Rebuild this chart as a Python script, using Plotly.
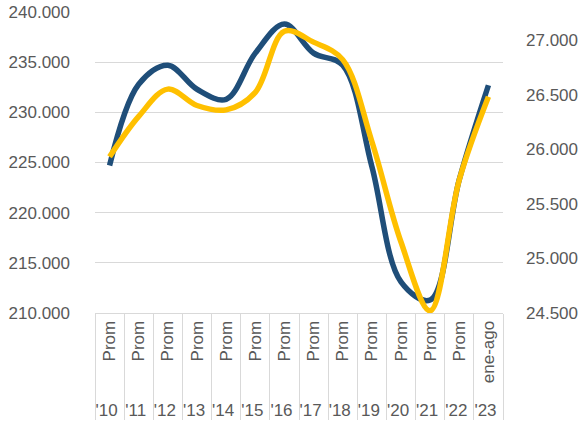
import plotly.graph_objects as go

years = ["'10", "'11", "'12", "'13", "'14", "'15", "'16", "'17", "'18", "'19", "'20", "'21", "'22", "'23"]
periods = ["Prom"] * 13 + ["ene-ago"]
serie_azul = [224700, 232800, 234700, 232300, 231300, 235900, 238800, 235900, 234700, 224600, 213100, 211300, 223300, 232700]
serie_amarilla = [25930, 26300, 26550, 26400, 26360, 26520, 27080, 26980, 26820, 26070, 25150, 24520, 25720, 26480]

x = [years, periods]

fig = go.Figure()
fig.add_trace(go.Scatter(
    x=x, y=serie_azul, mode="lines", name="Serie 1",
    line=dict(color="#1F4E79", width=5.5, shape="spline", smoothing=1.0),
    yaxis="y"))
fig.add_trace(go.Scatter(
    x=x, y=serie_amarilla, mode="lines", name="Serie 2",
    line=dict(color="#FFC000", width=5.5, shape="spline", smoothing=1.0),
    yaxis="y2"))

font = dict(family="Liberation Sans, Arial, sans-serif", size=16, color="#595959")

fig.update_layout(
    width=587, height=434,
    margin=dict(l=95, r=84, t=12, b=121),
    paper_bgcolor="white", plot_bgcolor="white",
    showlegend=False,
    font=font,
    xaxis=dict(type="multicategory", range=[-0.5, len(years) - 0.5],
               showline=True, linecolor="#D9D9D9",
               showgrid=False, tickangle=-90, tickfont=dict(size=17, color="#595959"),
               showdividers=True, dividercolor="#D9D9D9", dividerwidth=1,
               ticks="", automargin=False),
    yaxis=dict(range=[210000, 240000], tickvals=[210000, 215000, 220000, 225000, 230000, 235000, 240000],
               ticktext=["210.000", "215.000", "220.000", "225.000", "230.000", "235.000", "240.000"],
               showgrid=True, gridcolor="#D9D9D9", gridwidth=1, zeroline=False,
               ticklabelstandoff=24, tickfont=dict(size=17, color="#595959"), automargin=False),
    yaxis2=dict(range=[24500, 27256], overlaying="y", side="right",
                tickvals=[24500, 25000, 25500, 26000, 26500, 27000],
                ticktext=["24.500", "25.000", "25.500", "26.000", "26.500", "27.000"],
                showgrid=False, zeroline=False, ticklabelstandoff=22,
                tickfont=dict(size=17, color="#595959"), automargin=False),
)

fig.write_html("out.html", config={"displayModeBar": False},
               post_script="document.body.style.margin='0';document.body.style.overflow='hidden';")
